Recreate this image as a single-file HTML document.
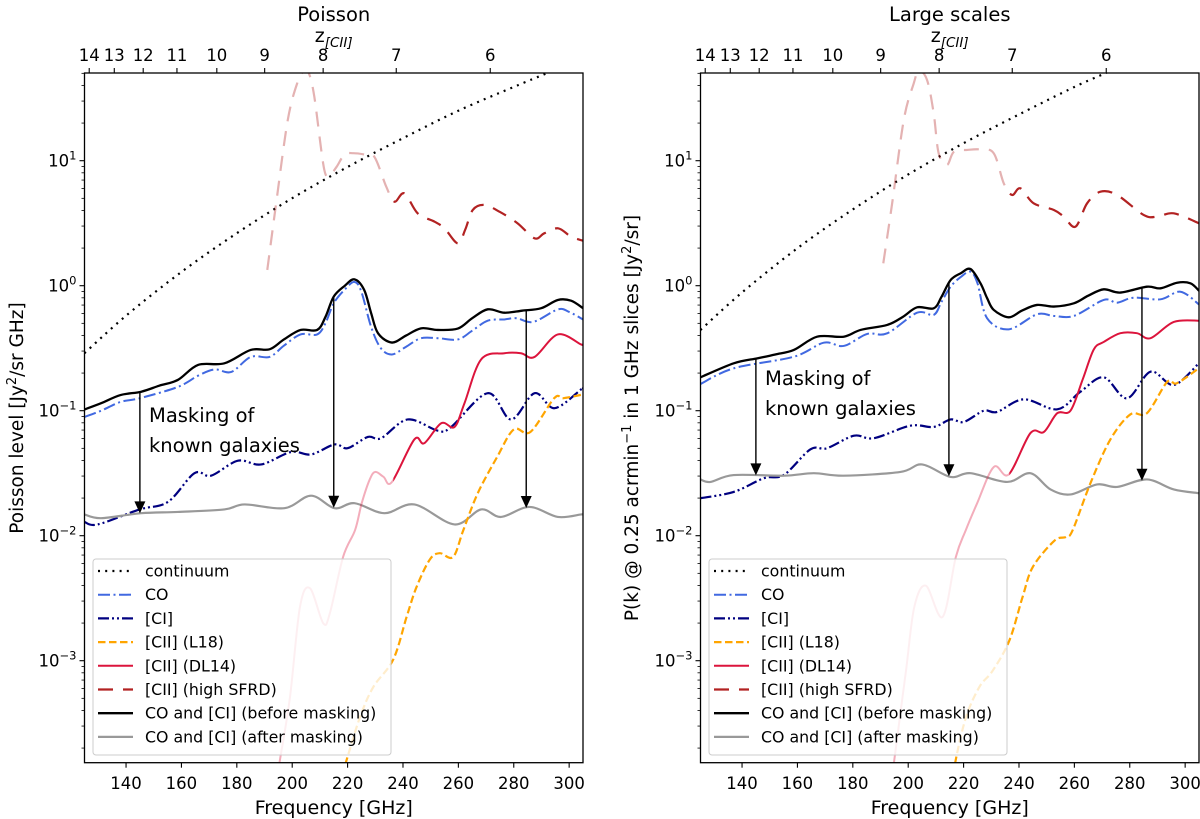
<!DOCTYPE html>
<html><head><meta charset="utf-8">
<style>
html,body{margin:0;padding:0;background:#fff;}
svg{display:block;font-family:"DejaVu Sans","Liberation Sans",sans-serif;}
</style></head>
<body>
<svg id="fig" width="1200" height="819" viewBox="0 0 1200 819" xmlns="http://www.w3.org/2000/svg"></svg>
<script>
// ---------- data (log10 of value), Poisson panel ----------
const xTickLabels = [140,160,180,200,220,240,260,280,300];
const zTickLabels = [6,7,8,9,10,11,12,13,14];
const yDecades = [-3,-2,-1,0,1];
const legendLabels = ["continuum","CO","[CI]","[CII] (L18)","[CII] (DL14)","[CII] (high SFRD)","CO and [CI] (before masking)","CO and [CI] (after masking)"];

const pContF = [125,140,160,180,200,220,240,260,280,292,300];
const pContV = [-0.54,-0.24,0.11,0.42,0.70,0.95,1.18,1.40,1.59,1.70,1.77];
const pTotF = [125,131,138,145.5,152,158.7,166,175.5,185,191.8,197,203,209,212,215,219,222.5,226,228.5,231,236,241,246.5,252.6,259.8,265,270.6,276.6,283,289.9,295.9,300.7,305];
const pTotV = [-0.99,-0.94,-0.875,-0.848,-0.80,-0.754,-0.634,-0.621,-0.514,-0.509,-0.43,-0.354,-0.354,-0.25,-0.087,0.00,0.051,-0.034,-0.22,-0.381,-0.455,-0.40,-0.341,-0.354,-0.343,-0.26,-0.189,-0.216,-0.20,-0.18,-0.114,-0.12,-0.18];
const pCOF = [125,131,138,145,158.7,166,172,178,185,191.8,197,203,209,212,215,219,222.5,225,228.5,232,236,241,246.5,252.6,259.8,265,270.6,276.6,281,287,295.9,300,305];
const pCOV = [-1.05,-1.00,-0.93,-0.90,-0.81,-0.72,-0.67,-0.69,-0.57,-0.57,-0.48,-0.39,-0.39,-0.30,-0.14,-0.03,0.03,-0.05,-0.33,-0.50,-0.55,-0.49,-0.42,-0.42,-0.43,-0.36,-0.28,-0.27,-0.26,-0.29,-0.19,-0.21,-0.27];
const pCIF = [125,129.8,144.9,155.1,164.7,170.7,180.4,188.8,199.6,206.8,215.3,220,227.3,232.1,241.7,252.6,257.4,270.6,279,287.5,294.7,304.3,305];
const pCIV = [-1.89,-1.91,-1.79,-1.73,-1.50,-1.52,-1.40,-1.43,-1.33,-1.35,-1.27,-1.30,-1.21,-1.22,-1.07,-1.16,-1.13,-0.86,-1.07,-0.86,-0.98,-0.83,-0.82];
const pMaskF = [125,131,145.5,158.7,175.5,182.8,197.2,206.8,215.3,222.5,233.3,244.1,258.6,268.2,275.4,285.6,295.9,304.3,305];
const pMaskV = [-1.83,-1.86,-1.82,-1.81,-1.79,-1.75,-1.78,-1.68,-1.78,-1.74,-1.82,-1.75,-1.91,-1.79,-1.85,-1.77,-1.85,-1.83,-1.83];
const pDLF = [194,195.6,199.2,202.8,206.4,211.2,213.6,218.4,222.7,225.1,228,230,233,236,244.1,247.7,253.8,258.6,262.2,268.2,276.6,282.6,287.5,295.9,304.3,305];
const pDLV = [-4.0,-3.79,-3.29,-2.57,-2.42,-2.70,-2.62,-2.168,-1.955,-1.74,-1.55,-1.49,-1.53,-1.57,-1.23,-1.26,-1.10,-1.13,-0.94,-0.59,-0.54,-0.54,-0.57,-0.39,-0.47,-0.47];
const pL18F = [217,219.7,224.5,229.3,236.5,241.3,244.9,249.7,253.3,258.1,261.8,267,274,280,286,294.6,298,305];
const pL18V = [-4.0,-3.79,-3.45,-3.21,-2.99,-2.65,-2.41,-2.19,-2.14,-2.17,-1.955,-1.66,-1.37,-1.15,-1.17,-0.90,-0.90,-0.87];
const pHiF = [191,194.2,198.4,202,204.4,206,208,211.6,214,216,218.9,222,226,229.7,234,236.9,240.5,245.3,251.4,255,259.8,262.5,265.2,269.4,275,281.4,287.5,291,296,300.7,305];
const pHiV = [0.126,0.659,1.326,1.632,1.72,1.70,1.51,0.926,0.90,0.95,1.05,1.06,1.05,1.03,0.79,0.672,0.739,0.579,0.512,0.459,0.339,0.45,0.606,0.646,0.59,0.499,0.379,0.419,0.459,0.392,0.36];
const pArrowF = [145,215,284.5];

// ---------- data (log10 of value), Large scales panel ----------
const lContF = [125,140,160,180,200,220,240,260,271.2,280];
const lContV = [-0.354,-0.054,0.30,0.61,0.89,1.14,1.37,1.59,1.70,1.79];
const lTotF = [125,137,145.5,152,158.7,167.1,176.7,182.8,192.4,198,203.2,209.2,212,215.3,219,222.5,226.1,228.5,230.9,236.3,241,246.5,252.6,259.8,265,270.6,276.6,286.2,291.1,297.1,301.9,305];
const lTotV = [-0.733,-0.621,-0.581,-0.55,-0.514,-0.408,-0.408,-0.354,-0.314,-0.25,-0.173,-0.181,-0.09,0.045,0.10,0.133,0.019,-0.10,-0.194,-0.253,-0.20,-0.154,-0.167,-0.141,-0.08,-0.029,-0.055,-0.008,-0.021,0.024,0.019,-0.04];
const lCOF = [125,137,158.7,169.5,176.7,185.2,192.4,203.2,209.2,212,215.3,219,222.5,225,228.5,236.3,246.5,252.6,259.8,270.6,275.4,281.4,291.1,298.3,305];
const lCOV = [-0.786,-0.661,-0.568,-0.456,-0.482,-0.386,-0.381,-0.216,-0.234,-0.13,-0.008,0.07,0.112,0.02,-0.261,-0.349,-0.229,-0.242,-0.242,-0.114,-0.136,-0.096,-0.109,-0.048,-0.15];
const lCIF = [125,137,147.9,155.1,164.7,170.7,180.4,187.6,200.8,209.2,215.3,220.1,227.3,232.1,241.7,253.8,262.2,270.6,279,287.5,295.9,305];
const lCIV = [-1.70,-1.65,-1.54,-1.514,-1.309,-1.30,-1.20,-1.22,-1.12,-1.13,-1.07,-1.09,-1.00,-1.01,-0.909,-0.989,-0.848,-0.733,-0.901,-0.688,-0.794,-0.62];
const lMaskF = [125,128.6,137,155.1,165.9,176.7,197.2,205,215.3,222.5,235.7,244.1,251.4,258.6,268.2,275.4,286.2,295.9,305];
const lMaskV = [-1.55,-1.57,-1.515,-1.52,-1.50,-1.52,-1.49,-1.43,-1.53,-1.50,-1.57,-1.50,-1.63,-1.67,-1.59,-1.61,-1.55,-1.63,-1.66];
const lDLF = [194,195,199.2,202.2,206.4,212.4,217.2,220.8,224.9,230.9,236.3,244.1,249,253.8,258.6,263,267,270.6,276.6,282.6,287.5,295.9,305];
const lDLV = [-4.0,-3.79,-3.08,-2.57,-2.40,-2.65,-2.17,-1.955,-1.74,-1.45,-1.51,-1.18,-1.17,-1.02,-1.00,-0.75,-0.51,-0.45,-0.38,-0.38,-0.42,-0.29,-0.28];
const lL18F = [216,217.2,220.9,225.7,230.5,236.5,241.3,245,252.8,257,259.4,265.8,273,280.2,286.2,293.5,297,305];
const lL18V = [-4.0,-3.79,-3.45,-3.21,-3.08,-2.84,-2.49,-2.25,-2.04,-2.01,-1.955,-1.58,-1.23,-1.03,-1.02,-0.77,-0.78,-0.66];
const lHiF = [191,194.2,198.4,202,203.8,206.8,209.2,211,214,216.5,221.3,226,230.9,234.5,237.5,240.5,245.3,252.6,256.2,260.4,264.6,269.4,275.4,285,289.9,295.9,305];
const lHiV = [0.179,0.659,1.326,1.619,1.72,1.646,1.379,1.059,0.966,1.072,1.086,1.09,1.059,0.819,0.726,0.779,0.659,0.606,0.552,0.472,0.659,0.752,0.726,0.566,0.552,0.579,0.499];
const lArrowF = [145,214.7,284.4];

// ---------- layout ----------
const NS = "http://www.w3.org/2000/svg";
const svg = document.getElementById('fig');
const FMIN = 125, FMAX = 305, AXW = 498.5;
const YTOP = 73, YBOT = 762.7, Y1 = 160.7, DEC = 125;
const LOGMIN = -3 - (YBOT - (Y1 + 4*DEC)) / DEC, LOGMAX = 1 + (Y1 - YTOP) / DEC;

function mk(tag, attrs, parent) {
  const e = document.createElementNS(NS, tag);
  for (const k in attrs) e.setAttribute(k, attrs[k]);
  (parent || svg).appendChild(e);
  return e;
}
function smoothPath(pts) {
  if (pts.length < 2) return '';
  let d = 'M' + pts[0][0].toFixed(2) + ',' + pts[0][1].toFixed(2);
  for (let i = 0; i < pts.length - 1; i++) {
    const p0 = pts[Math.max(0, i - 1)], p1 = pts[i], p2 = pts[i + 1], p3 = pts[Math.min(pts.length - 1, i + 2)];
    const c1x = p1[0] + (p2[0] - p0[0]) / 6, c1y = p1[1] + (p2[1] - p0[1]) / 6;
    const c2x = p2[0] - (p3[0] - p1[0]) / 6, c2y = p2[1] - (p3[1] - p1[1]) / 6;
    d += 'C' + c1x.toFixed(2) + ',' + c1y.toFixed(2) + ' ' + c2x.toFixed(2) + ',' + c2y.toFixed(2) + ' ' + p2[0].toFixed(2) + ',' + p2[1].toFixed(2);
  }
  return d;
}
function interp(F, V, f) {
  for (let i = 0; i < F.length - 1; i++) if (f >= F[i] && f <= F[i + 1]) return V[i] + (V[i + 1] - V[i]) * (f - F[i]) / (F[i + 1] - F[i]);
  return f < F[0] ? V[0] : V[V.length - 1];
}

const panels = [
  {key:'poisson', x0:84.5, title:'Poisson', ylabel:['Poisson level [Jy','2','/sr GHz]'], ylx:17,
   cont:[pContF,pContV], tot:[pTotF,pTotV], co:[pCOF,pCOV], ci:[pCIF,pCIV], mask:[pMaskF,pMaskV],
   dl:[pDLF,pDLV], l18:[pL18F,pL18V], hi:[pHiF,pHiV], arrows:pArrowF, textY:[422,452]},
  {key:'large-scales', x0:700.5, title:'Large scales', ylabel:['P(k) @ 0.25 acrmin','\u22121',' in 1 GHz slices [Jy','2','/sr]'], ylx:632,
   cont:[lContF,lContV], tot:[lTotF,lTotV], co:[lCOF,lCOV], ci:[lCIF,lCIV], mask:[lMaskF,lMaskV],
   dl:[lDLF,lDLV], l18:[lL18F,lL18V], hi:[lHiF,lHiV], arrows:lArrowF, textY:[385,415]}
];

const styles = {
  cont:{stroke:'#000', dash:'2 5.2', w:2.2},
  co:{stroke:'#4169e1', dash:'12 3.5 2 3.5', w:2},
  ci:{stroke:'#000080', dash:'11 3 2 3 2 3', w:2.2},
  l18:{stroke:'#ffa500', dash:'7.5 3.5', w:2.2},
  dl:{stroke:'#dc143c', dash:'', w:2},
  hi:{stroke:'#b22222', dash:'15 10', w:2.2},
  tot:{stroke:'#000', dash:'', w:2.3},
  mask:{stroke:'#999', dash:'', w:2.2}
};
const legendOrder = ['cont','co','ci','l18','dl','hi','tot','mask'];

panels.forEach((P, pi) => {
  const X = f => P.x0 + (f - FMIN) / (FMAX - FMIN) * AXW;
  const Y = v => Y1 + (1 - v) * DEC;
  const g = mk('g', {});
  
  

  const cid = 'clip' + pi;
  const defs = mk('defs', {}, g);
  const cp = mk('clipPath', {id: cid}, defs);
  mk('rect', {x: P.x0, y: YTOP, width: AXW, height: YBOT - YTOP}, cp);
  const cutF = 236.5;
  const cpa = mk('clipPath', {id: cid + 'a'}, defs);
  mk('rect', {x: P.x0, y: YTOP, width: X(cutF) - P.x0, height: YBOT - YTOP}, cpa);
  const cpb = mk('clipPath', {id: cid + 'b'}, defs);
  mk('rect', {x: X(cutF), y: YTOP, width: P.x0 + AXW - X(cutF), height: YBOT - YTOP}, cpb);

  const plot = mk('g', {'clip-path': 'url(#' + cid + ')'}, g);
  
  

  const seriesNames = {cont:'continuum-line', co:'co-line', ci:'ci-line', l18:'cii-l18-line', dl:'cii-dl14-line', hi:'cii-high-sfrd-line', tot:'before-masking-line', mask:'after-masking-line'};
  ['cont','co','ci','tot','mask','l18','dl','hi'].forEach(k => {
    const [F, V] = P[k];
    const pts = F.map((f, i) => [X(f), Y(V[i])]);
    const d = smoothPath(pts);
    const st = styles[k];
    if (k === 'dl' || k === 'hi') {
      const faded = mk('path', {d: d, fill: 'none', stroke: st.stroke, 'stroke-width': st.w, 'stroke-dasharray': st.dash || 'none', 'stroke-opacity': 0.35, 'clip-path': 'url(#' + cid + 'a)'}, plot);
      
      
      const solid = mk('path', {d: d, fill: 'none', stroke: st.stroke, 'stroke-width': st.w, 'stroke-dasharray': st.dash || 'none', 'clip-path': 'url(#' + cid + 'b)'}, plot);
      
      
    } else {
      const p = mk('path', {d: d, fill: 'none', stroke: st.stroke, 'stroke-width': st.w, 'stroke-dasharray': st.dash || 'none'}, plot);
      
      
    }
  });

  // arrows
  P.arrows.forEach(f => {
    const x = X(f);
    const y0 = Y(interp(P.tot[0], P.tot[1], f));
    const y1 = Y(interp(P.mask[0], P.mask[1], f));
    const ln = mk('line', {x1: x, y1: y0, x2: x, y2: y1 - 10, stroke: '#000', 'stroke-width': 1.4}, g);
    
    
    const hd = mk('polygon', {points: (x - 5.5) + ',' + (y1 - 12) + ' ' + (x + 5.5) + ',' + (y1 - 12) + ' ' + x + ',' + y1, fill: '#000'}, g);
    
    
  });
  const ann = mk('text', {x: P.x0 + 64.5, y: P.textY[0], 'font-size': 19.5, fill: '#000'}, g);
  ann.textContent = 'Masking of';
  
  
  const ann2 = mk('text', {x: P.x0 + 64.5, y: P.textY[1], 'font-size': 19.5, fill: '#000'}, g);
  ann2.textContent = 'known galaxies';
  
  

  // legend
  const lg = mk('g', {}, g);
  
  
  mk('rect', {x: P.x0 + 8.5, y: 559, width: 298, height: 196, rx: 3, fill: '#fff', 'fill-opacity': 0.8, stroke: '#ccc', 'stroke-width': 1}, lg);
  legendOrder.forEach((k, i) => {
    const y = 571 + i * 23.7;
    const st = styles[k];
    const s = mk('line', {x1: P.x0 + 13.5, x2: P.x0 + 48.5, y1: y, y2: y, stroke: st.stroke, 'stroke-width': st.w, 'stroke-dasharray': st.dash || 'none'}, lg);
    
    
    const t = mk('text', {x: P.x0 + 60.5, y: y + 5.5, 'font-size': 15.8, fill: '#000'}, lg);
    t.textContent = legendLabels[i];
    
    
  });

  // frame
  const fr = mk('rect', {x: P.x0, y: YTOP, width: AXW, height: YBOT - YTOP, fill: 'none', stroke: '#000', 'stroke-width': 1.3}, g);
  
  

  // x ticks
  xTickLabels.forEach(f => {
    const x = X(f);
    mk('line', {x1: x, x2: x, y1: YBOT, y2: YBOT + 5, stroke: '#000', 'stroke-width': 1.1}, g);
    const t = mk('text', {x: x, y: 789, 'font-size': 16.5, 'text-anchor': 'middle'}, g);
    t.textContent = f;
    
    
  });
  const xl = mk('text', {x: P.x0 + AXW / 2, y: 814, 'font-size': 19, 'text-anchor': 'middle'}, g);
  xl.textContent = 'Frequency [GHz]';
  
  

  // top z axis
  zTickLabels.forEach(z => {
    const x = X(1900.54 / (1 + z));
    mk('line', {x1: x, x2: x, y1: YTOP, y2: YTOP - 5, stroke: '#000', 'stroke-width': 1.1}, g);
    const t = mk('text', {x: x, y: 61, 'font-size': 16.5, 'text-anchor': 'middle'}, g);
    t.textContent = z;
    
    
  });
  const zl = mk('text', {x: P.x0 + AXW / 2 - 19, y: 42, 'font-size': 19}, g);
  
  
  zl.appendChild(document.createTextNode('z'));
  const zs = mk('tspan', {'font-size': 13.5, 'font-style': 'italic', dy: 5}, zl);
  zs.textContent = '[CII]';
  const tt = mk('text', {x: P.x0 + AXW / 2, y: 21, 'font-size': 19.5, 'text-anchor': 'middle'}, g);
  tt.textContent = P.title;
  
  

  // y ticks
  for (let d = -4; d <= 1; d++) {
    for (let m = 1; m <= 9; m++) {
      const lv = d + Math.log10(m);
      if (lv < LOGMIN || lv > LOGMAX) continue;
      const y = Y(lv);
      mk('line', {x1: P.x0, x2: P.x0 - (m === 1 ? 5 : 3), y1: y, y2: y, stroke: '#000', 'stroke-width': m === 1 ? 1.1 : 0.8}, g);
    }
  }
  yDecades.forEach(d => {
    const t = mk('text', {x: P.x0 - 8, y: Y(d) + 6, 'font-size': 16.5, 'text-anchor': 'end'}, g);
    
    
    t.appendChild(document.createTextNode('10'));
    const s = mk('tspan', {'font-size': 11.5, dy: -7}, t);
    s.textContent = d < 0 ? '\u2212' + (-d) : String(d);
  });

  // y label
  const yl = mk('text', {x: 0, y: 0, 'font-size': 18.5, 'text-anchor': 'middle', transform: 'translate(' + (P.ylx + 6) + ',418) rotate(-90)'}, g);
  
  
  P.ylabel.forEach((part, i) => {
    const isSup = (i % 2 === 1);
    const ts = mk('tspan', isSup ? {'font-size': 13, dy: -7} : (i > 0 ? {dy: 7} : {}), yl);
    ts.textContent = part;
  });
});
</script>
</body></html>
